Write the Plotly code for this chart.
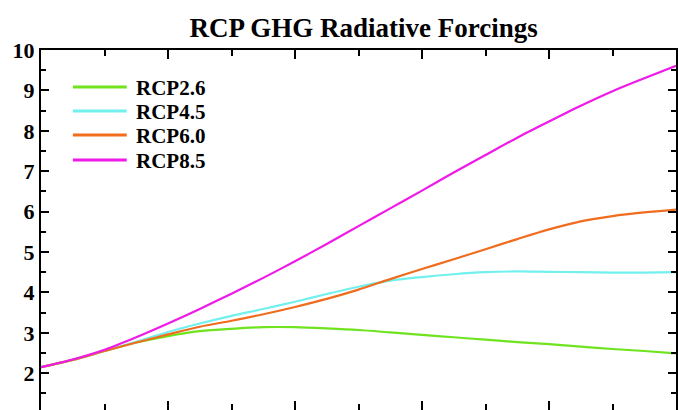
import plotly.graph_objects as go

years = [2000, 2005, 2010, 2015, 2020, 2025, 2030, 2035, 2040, 2045, 2050,
         2055, 2060, 2065, 2070, 2075, 2080, 2085, 2090, 2095, 2100]

rcp26 = [2.15, 2.33, 2.55, 2.76, 2.92, 3.04, 3.10, 3.14, 3.14, 3.11, 3.07,
         3.01, 2.95, 2.89, 2.83, 2.77, 2.72, 2.66, 2.60, 2.55, 2.49]
rcp45 = [2.15, 2.33, 2.55, 2.78, 3.02, 3.23, 3.42, 3.59, 3.77, 3.96, 4.14,
         4.29, 4.38, 4.45, 4.50, 4.52, 4.51, 4.50, 4.49, 4.49, 4.50]
rcp60 = [2.15, 2.33, 2.55, 2.76, 2.96, 3.15, 3.30, 3.46, 3.64, 3.84, 4.07,
         4.33, 4.58, 4.82, 5.07, 5.32, 5.56, 5.76, 5.89, 5.98, 6.05]
rcp85 = [2.15, 2.34, 2.58, 2.89, 3.23, 3.59, 3.97, 4.36, 4.77, 5.20, 5.64,
         6.08, 6.52, 6.97, 7.40, 7.83, 8.23, 8.62, 8.98, 9.30, 9.61]

names = ["RCP2.6", "RCP4.5", "RCP6.0", "RCP8.5"]
colors = ["#6ee31e", "#72f0ee", "#f06c1e", "#f01ae8"]
series = [rcp26, rcp45, rcp60, rcp85]

serif = "Liberation Serif"
fig = go.Figure()
for n, c, s in zip(names, colors, series):
    fig.add_trace(go.Scatter(x=years, y=s, name=n, mode="lines", showlegend=False,
                             line=dict(color=c, width=2.2, shape="spline", smoothing=0.8)))

# legend drawn as sample lines + labels (top-left, inside plot)
plot_l, plot_w, plot_t, plot_h = 41, 637, 50, 360
leg_x0, leg_x1, leg_tx = 73, 127, 134
leg_rows = [87, 111, 135, 160]
for n, c, py in zip(names, colors, leg_rows):
    yp = (plot_t + plot_h - py) / plot_h
    fig.add_shape(type="line", xref="paper", yref="paper",
                  x0=(leg_x0 - plot_l) / plot_w, x1=(leg_x1 - plot_l) / plot_w, y0=yp, y1=yp,
                  line=dict(color=c, width=3))
    fig.add_annotation(xref="paper", yref="paper", x=(leg_tx - plot_l) / plot_w,
                       y=(plot_t + plot_h - py - 1) / plot_h,
                       xanchor="left", yanchor="middle", showarrow=False,
                       text="<b>" + n + "</b>",
                       font=dict(family=serif, size=21, color="black"))

fig.update_layout(
    width=678, height=410,
    margin=dict(l=41, r=0, t=50, b=0),
    paper_bgcolor="white", plot_bgcolor="white",
    title=dict(text="<b>RCP GHG Radiative Forcings</b>", x=363.7 / 678, xanchor="center",
               y=0.932, yanchor="middle", font=dict(family=serif, size=27, color="black")),
    showlegend=False,
)
fig.update_xaxes(range=[2000, 2100], showgrid=False, zeroline=False,
                 showline=True, linecolor="black", linewidth=2, mirror="ticks",
                 ticks="inside", tickcolor="black", tickwidth=2, ticklen=9, dtick=20, tick0=2000,
                 showticklabels=False,
                 minor=dict(ticks="inside", dtick=10, ticklen=6, tickwidth=2, tickcolor="black"))
fig.update_yaxes(range=[1.09, 10], showgrid=False, zeroline=False,
                 showline=True, linecolor="black", linewidth=2, mirror="ticks",
                 ticks="inside", tickcolor="black", tickwidth=2, ticklen=8, dtick=1, tick0=0,
                 tickfont=dict(family=serif, size=22, color="black"),
                 tickprefix="<b>", ticksuffix="</b>",
                 minor=dict(ticks="inside", dtick=0.5, ticklen=5, tickwidth=2, tickcolor="black"))

fig.write_html("out.html")
